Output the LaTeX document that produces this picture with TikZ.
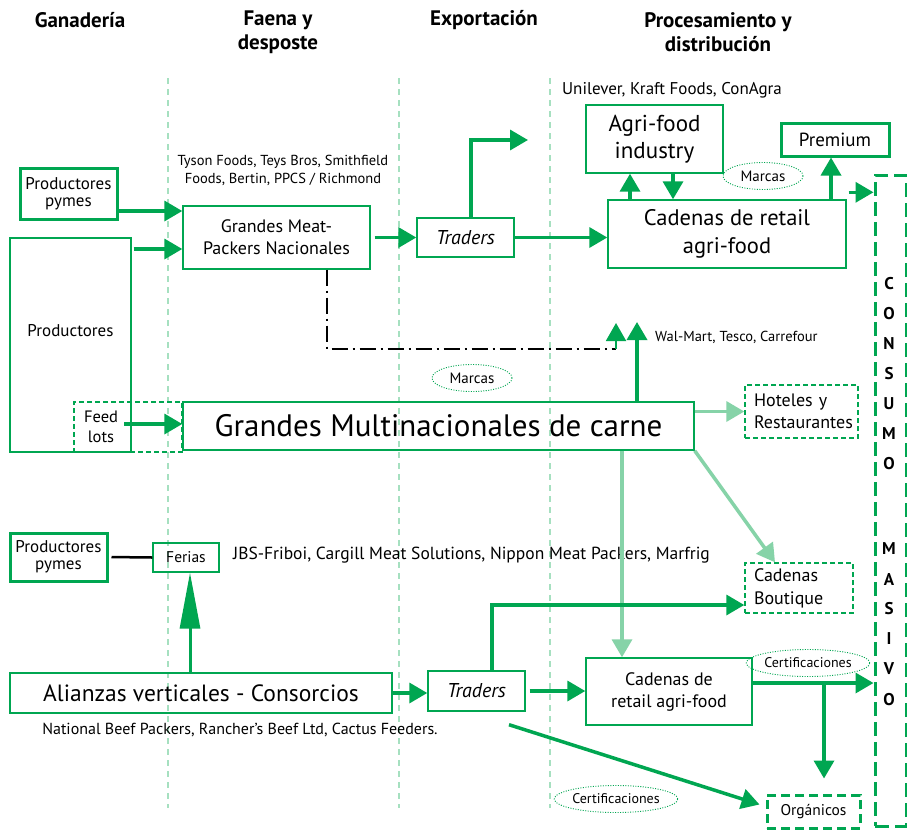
\documentclass[tikz,border=0pt]{standalone}
\usepackage{fontspec}
\setmainfont{PT Sans}
\usetikzlibrary{arrows.meta,shapes.geometric,calc}
\definecolor{G}{HTML}{00A651}
\definecolor{LG}{HTML}{86D3A8}
\definecolor{VL}{HTML}{A6E0C0}
\newcommand\fz[2]{\fontsize{#1pt}{#2pt}\selectfont}
\begin{document}
\begin{tikzpicture}[x=1pt,y=-1pt,
  box/.style={draw=G, line width=1.4pt, inner sep=0pt, align=center, font=\fz{17}{17}},
  tbox/.style={box, line width=3pt},
  dbox/.style={box, dash pattern=on 5pt off 3pt},
  arr/.style={draw=G, line width=3.5pt, -{Triangle[length=18pt,width=20pt]}},
  larr/.style={draw=LG, line width=3.5pt, -{Triangle[length=18pt,width=20pt]}},
  vline/.style={draw=VL, line width=1.5pt, dash pattern=on 6pt off 5pt},
  ell/.style={draw=G, ellipse, line width=0.9pt, dash pattern=on 1pt off 1.5pt, inner sep=0pt, font=\fz{15}{17}},
  hdr/.style={font=\bfseries\fz{21}{24}, align=center},
  txt/.style={font=\fz{17}{19}, inner sep=0pt},
  letter/.style={font=\bfseries\fz{17}{19}, inner sep=0pt}
]
\useasboundingbox (0,0) rectangle (907,830);
\fill[white] (0,0) rectangle (907,830);

% headers
\node[hdr] (h1) at (80,20) {Ganadería};
\node[hdr] (h2) at (278,32) {Faena y\\desposte};
\node[hdr] (h3) at (484,20) {Exportación};
\node[hdr] (h4) at (718,32) {Procesamiento y\\distribución};

% vertical guide lines
\coordinate (v1t) at (168,78); \coordinate (v1b) at (168,808);
\coordinate (v2t) at (399,78); \coordinate (v2b) at (399,808);
\coordinate (v3t) at (550,78); \coordinate (v3b) at (550,808);
\draw[vline] (v1t) -- (v1b);
\draw[vline] (v2t) -- (v2b);
\draw[vline] (v3t) -- (v3b);

% top block
\node[tbox, minimum width=97pt, minimum height=51pt] (ppym1) at (68.5,193.5) {Productores\\pymes};
\node[box, minimum width=121pt, minimum height=214pt] (prod) at (70.5,345) {};
\node[txt] (prodtxt) at (70.5,331) {Productores};
\node[dbox, minimum width=108pt, minimum height=50pt] (feed) at (128,427) {};
\node[txt, align=center, font=\fz{16.5}{20}] (feedtxt) at (101,427) {Feed\\lots};
\node[box, minimum width=187pt, minimum height=63pt, font=\fz{18}{22}] (mp) at (276.5,237.5) {Grandes Meat-\\Packers Nacionales};
\node[txt, align=center, font=\fz{14.5}{18}] (tyson) at (283,170) {Tyson Foods, Teys Bros, Smithfield\\Foods, Bertin, PPCS / Richmond};
\node[box, minimum width=97pt, minimum height=39pt, font=\itshape\fz{20}{22}] (tr1) at (465.5,237.5) {Traders};
\node[txt] (unil) at (672,90) {Unilever, Kraft Foods, ConAgra};
\node[box, minimum width=137pt, minimum height=68pt, font=\fz{23}{27}] (agri) at (654.5,139) {Agri-food\\industry};
\node[box, minimum width=238pt, minimum height=68pt, font=\fz{22.5}{28}] (cad1) at (727,234) {Cadenas de retail\\agri-food};
\node[tbox, minimum width=108pt, minimum height=33pt, font=\fz{19}{20}] (prem) at (835,139.5) {Premium};
\node[ell, minimum width=80pt, minimum height=27pt] (marc1) at (763,176) {Marcas};
\node[box, line width=3pt, dash pattern=on 14pt off 6pt, minimum width=31pt, minimum height=651pt] (cons) at (890.5,500.5) {};

% consumo masivo letters
\node[letter] (c1) at (889,284) {C};
\node[letter] (c2) at (889,314) {O};
\node[letter] (c3) at (889,344) {N};
\node[letter] (c4) at (889,374) {S};
\node[letter] (c5) at (889,404) {U};
\node[letter] (c6) at (889,434) {M};
\node[letter] (c7) at (889,464) {O};
\node[letter] (m1) at (889,549) {M};
\node[letter] (m2) at (889,579) {A};
\node[letter] (m3) at (889,609) {S};
\node[letter] (m4) at (889,639) {I};
\node[letter] (m5) at (889,669) {V};
\node[letter] (m6) at (889,700) {O};

% middle block
\node[box, minimum width=511pt, minimum height=48pt, font=\fz{31}{33}] (multi) at (438.5,426) {Grandes Multinacionales de carne};
\node[txt, font=\fz{14.5}{17}, anchor=west] (wal) at (655,337) {Wal-Mart, Tesco, Carrefour};
\node[ell, minimum width=80pt, minimum height=27pt] (marc2) at (472,378) {Marcas};
\node[dbox, minimum width=113pt, minimum height=53pt, font=\fz{18}{22}, align=left, text width=95pt] (hot) at (801.5,411.5) {Hoteles y\\Restaurantes};

% bottom block
\node[tbox, minimum width=97pt, minimum height=48pt] (ppym2) at (58.5,557) {Productores\\pymes};
\node[box, minimum width=66pt, minimum height=29pt, font=\fz{15.5}{17}] (fer) at (186,557.5) {Ferias};
\node[txt, font=\fz{17.5}{19}, anchor=west] (jbs) at (233,555) {JBS-Friboi, Cargill Meat Solutions, Nippon Meat Packers, Marfrig};
\node[box, minimum width=382pt, minimum height=40pt, font=\fz{23.5}{26}] (ali) at (201,693) {Alianzas verticales - Consorcios};
\node[txt, font=\fz{16}{18}] (nat) at (240,730) {National Beef Packers, Rancher’s Beef Ltd, Cactus Feeders.};
\node[box, minimum width=97pt, minimum height=40pt, font=\itshape\fz{20}{22}] (tr2) at (476.5,691) {Traders};
\node[dbox, minimum width=108pt, minimum height=50pt, font=\fz{18}{23}, align=left, text width=90pt] (bout) at (799,588) {Cadenas\\Boutique};
\node[box, minimum width=166pt, minimum height=67pt, font=\fz{18}{22}] (cad2) at (669,691.5) {Cadenas de\\retail agri-food};
\node[ell, minimum width=112pt, minimum height=27pt, font=\fz{14}{16}] (cert1) at (808,663) {Certificaciones};
\node[box, line width=3pt, dash pattern=on 9pt off 5pt, minimum width=93pt, minimum height=33pt, font=\fz{15.5}{17}] (org) at (813.5,811.5) {Orgánicos};
\node[ell, minimum width=110pt, minimum height=27pt, font=\fz{14}{16}] (cert2) at (616,799) {Certificaciones};

% free ends
\coordinate (exptip) at (528,140);
\coordinate (wmtip1) at (616,323);
\coordinate (wmtip2) at (637,322);
\coordinate (mpin) at ([yshift=-11.5pt]mp.west);
\coordinate (ppin) at ([yshift=26.5pt]mp.west);
\coordinate (c1out) at ([yshift=7pt]cad1.north east);
\coordinate (c2out) at ([yshift=8.5pt]cad2.east);
\coordinate (boutin) at ([yshift=-17pt]bout.west);

% top connectors
\draw[arr] (ppym1.east |- ppin) -- (ppin);
\draw[arr] ([xshift=2pt]prod.east |- mpin) -- (mpin);
\draw[arr, shorten <=4pt] (mp.east) -- (tr1.west);
\draw[arr] ([xshift=5.5pt]tr1.north) |- (exptip);
\draw[arr] (tr1.east) -- (tr1.east -| cad1.west);
\draw[arr] ([xshift=-97pt]cad1.north) -- ([xshift=-97pt]cad1.north |- agri.south);
\draw[arr] ([xshift=-54pt]cad1.north |- agri.south) -- ([xshift=-54pt]cad1.north);
\draw[arr] ([xshift=-4pt]prem.south |- cad1.north) -- ([xshift=-4pt]prem.south);
\draw[arr, shorten <=2pt] (c1out) -- (c1out -| cons.west);

% dash-dot link
\draw[line width=2pt, dash pattern=on 16pt off 5pt on 2pt off 5pt] ([xshift=50.5pt]mp.south) |- ([yshift=-26pt]wmtip1);
\draw[arr, line width=2pt] ([yshift=-26pt]wmtip1) -- (wmtip1);
\draw[arr] (multi.north -| wmtip2) -- (wmtip2);

% middle connectors
\draw[arr] ([xshift=-58pt, yshift=2pt]multi.west) -- ([yshift=2pt]multi.west);
\draw[larr] (hot.west -| multi.east) -- (hot.west);
\draw[larr] (multi.south east) -- ([xshift=-24pt]bout.north);
\draw[larr] ([xshift=-47pt]cad2.north |- multi.south) -- ([xshift=-47pt]cad2.north);

% bottom connectors
\draw[line width=2.5pt, shorten <=3pt] (ppym2.east) -- (fer.west);
\draw[draw=G, line width=3pt, -{Triangle[length=56pt,width=20pt]}] ([xshift=4pt]fer.south |- ali.north) -- ([xshift=4pt]fer.south);
\draw[arr] (ali.east) -- (ali.east -| tr2.west);
\draw[arr] ([xshift=15.5pt]tr2.north) |- (boutin);
\draw[arr, shorten <=4pt] (tr2.east) -- (tr2.east -| cad2.west);
\draw[arr] (c2out) -- (c2out -| cons.west);
\draw[arr] ([xshift=10.5pt]org.north |- c2out) -- ([xshift=10.5pt, yshift=15pt]org.north);
\draw[arr] ([xshift=32.5pt, yshift=-13pt]tr2.south) -- ([xshift=-6pt, yshift=7pt]org.west);
\end{tikzpicture}
\end{document}
